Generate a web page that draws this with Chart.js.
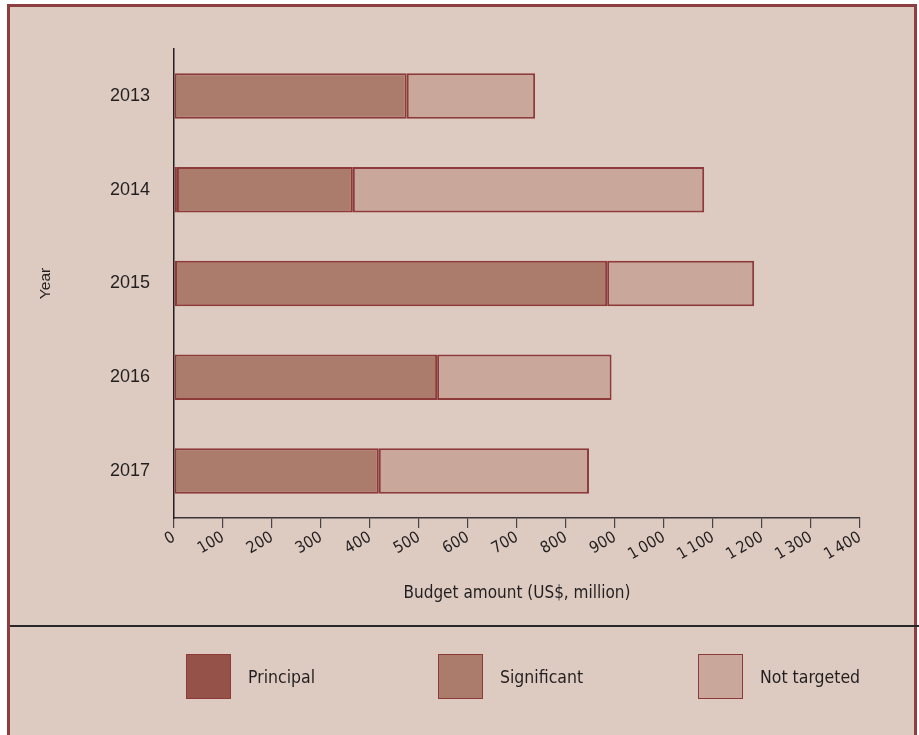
<!DOCTYPE html>
<html>
<head>
<meta charset="utf-8">
<script src="https://cdn.jsdelivr.net/npm/chart.js@4/dist/chart.umd.min.js"></script>
<style>
  html, body { margin: 0; padding: 0; background: #ffffff; }
  body { width: 919px; height: 735px; position: relative; overflow: hidden; }
  #panel {
    position: absolute; left: 7px; top: 4px;
    width: 904px; height: 800px;
    border: 3px solid #8C3F3E; background: #DDCBC1;
  }
  #chartBox { position: absolute; left: 0; top: 0; width: 919px; height: 626px; }
  #rule { position: absolute; left: 10px; top: 625px; width: 909px; height: 2px; background: #2a2526; }
  #legend { position: absolute; left: 0; top: 0; width: 919px; height: 735px; pointer-events: none; }
  .lg-box { position: absolute; width: 43px; height: 43px; border: 1.5px solid #8E3A3A; }
  .lg-text {
    position: absolute; font: 17.5px "Liberation Sans Narrow", "DejaVu Sans Condensed", sans-serif;
    color: #231F20; line-height: 20px;
  }
</style>
</head>
<body>
<div id="panel"></div>
<div id="chartBox"><canvas id="chart" width="919" height="626"></canvas></div>
<div id="rule"></div>
<div id="legend"></div>
<script>
// Budget by year, split by gender-marker score (US$, million)
const years = ['2013', '2014', '2015', '2016', '2017'];
const principal   = [0, 6, 2, 0, 0];
const significant = [475, 359, 882, 537, 418];
const notTargeted = [262, 717, 300, 356, 429];

const seriesNames  = ['Principal', 'Significant', 'Not targeted'];
const seriesColors = ['#955248', '#AB7B6C', '#C9A89B'];
const xTickLabels  = ['0', '100', '200', '300', '400', '500', '600', '700', '800', '900',
                      '1\u202F000', '1\u202F100', '1\u202F200', '1\u202F300', '1\u202F400'];
const xTitle = 'Budget amount (US$, million)';
const yTitle = 'Year';

const edgeColor = '#8E3A3A';
const narrow = '"Liberation Sans Narrow", "DejaVu Sans Condensed", sans-serif';
const plain  = '"Liberation Sans", Arial, sans-serif';

const seriesValues = [principal, significant, notTargeted];
const datasets = seriesNames.map((name, i) => ({
  label: name,
  data: seriesValues[i],
  backgroundColor: seriesColors[i],
  borderColor: edgeColor,
  borderWidth: 2,
  borderSkipped: false,
  barPercentage: 0.485,
  categoryPercentage: 1
}));

const chart = new Chart(document.getElementById('chart'), {
  type: 'bar',
  data: { labels: years, datasets },
  options: {
    indexAxis: 'y',
    responsive: false,
    animation: false,
    devicePixelRatio: 1,
    layout: { padding: { left: 0, right: 59, top: 49, bottom: 0 } },
    plugins: { legend: { display: false }, tooltip: { enabled: false } },
    scales: {
      x: {
        stacked: true,
        min: 0, max: 1400,
        ticks: {
          stepSize: 100, autoSkip: false,
          minRotation: 30, maxRotation: 30,
          padding: 0,
          color: '#231F20',
          font: { family: narrow, size: 16 },
          callback: (v, i) => xTickLabels[i]
        },
        grid: { drawOnChartArea: false, drawTicks: true, tickLength: 10, color: '#4a4446', lineWidth: 1.2 },
        border: { color: '#3a3536', width: 1.5 },
        title: {
          display: true, text: xTitle, color: '#231F20',
          font: { family: narrow, size: 17 },
          padding: { top: 0, bottom: 22 }
        },
        afterFit: s => { s.height = 108; }
      },
      y: {
        stacked: true,
        ticks: { padding: 24, color: '#231F20', font: { family: plain, size: 18 } },
        grid: { display: false, drawTicks: false },
        border: { color: '#231F20', width: 1.5 },
        title: {
          display: true, text: yTitle, color: '#231F20',
          font: { family: plain, size: 15.5 },
          padding: { top: 36, bottom: 0 }
        },
        afterFit: s => { s.width = 174; }
      }
    }
  }
});

// Legend row below the rule, built from the chart's datasets
const legendPos = [186, 438, 698];
const legendEl = document.getElementById('legend');
chart.data.datasets.forEach((ds, i) => {
  const box = document.createElement('div');
  box.className = 'lg-box';
  box.style.left = legendPos[i] + 'px';
  box.style.top = '654px';
  box.style.background = ds.backgroundColor;
  legendEl.appendChild(box);
  const txt = document.createElement('div');
  txt.className = 'lg-text';
  txt.style.left = (legendPos[i] + 62) + 'px';
  txt.style.top = '667px';
  txt.textContent = ds.label;
  legendEl.appendChild(txt);
});
</script>
</body>
</html>
